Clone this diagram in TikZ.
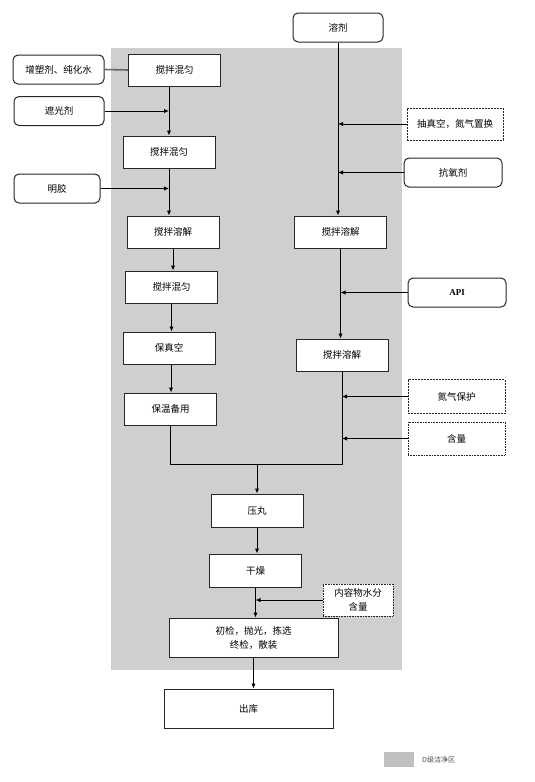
\documentclass[tikz,border=0pt]{standalone}
\usepackage{fontspec}
\setmainfont{Liberation Serif}
\newfontfamily\cjk{Noto Sans CJK SC}
\usetikzlibrary{arrows.meta}
\definecolor{cleanzone}{RGB}{208,206,208}
\definecolor{legendgray}{RGB}{192,192,192}

\begin{document}
\begin{tikzpicture}[x=1pt, y=-1pt,
    box/.style={draw=black!85, fill=white, line width=1pt, inner sep=0pt,
      minimum width=92pt, minimum height=32pt, align=center,
      font=\cjk\fontsize{9.5}{14}\selectfont},
    rbox/.style={box, rounded corners=5pt, minimum height=29pt},
    dbox/.style={box, dash pattern=on 2pt off 1pt},
    obox/.style={box, dash pattern=on 0.8pt off 0.8pt},
    ln/.style={line width=1pt, black},
    arr/.style={ln, -{Latex[length=5pt,width=4.5pt]}}]
  \useasboundingbox (0,0) rectangle (535,782);

  % D级洁净区
  \fill[cleanzone] (111,48) rectangle (402,670);

  % 左列：胶液
  \node[box] (mixA) at (174.5,70) {搅拌混匀};
  \node[box] (mixB) at (169,152) {搅拌混匀};
  \node[box] (dissA) at (173,232) {搅拌溶解};
  \node[box] (mixC) at (171.5,287) {搅拌混匀};
  \node[box] (vac) at (169,348) {保真空};
  \node[box] (keep) at (170.5,409) {保温备用};

  % 左侧投料
  \node[rbox, minimum width=91pt] (plast) at (58.5,69.5) {增塑剂、纯化水};
  \node[rbox, minimum width=90pt] (shade) at (59,111) {遮光剂};
  \node[rbox, minimum width=86pt] (gel) at (57,188.5) {明胶};

  % 右列：药液
  \node[rbox, minimum width=90pt] (solv) at (338,27.5) {溶剂};
  \node[box] (dissB) at (340.5,232) {搅拌溶解};
  \node[box] (dissC) at (342,355) {搅拌溶解};

  % 右侧投料与控制
  \node[dbox, minimum width=96pt] (purge) at (455,124) {抽真空，氮气置换};
  \node[rbox, minimum width=98pt] (antiox) at (453,172.5) {抗氧剂};
  \node[rbox, minimum width=98pt, font=\bfseries\fontsize{9}{11}\selectfont] (api) at (457,292.5) {API};
  \node[dbox, minimum width=97pt, minimum height=34pt] (nprot) at (456.5,396.5) {氮气保护};
  \node[obox, minimum width=97pt, minimum height=33pt] (assay) at (456.5,438.5) {含量};

  % 压丸以后
  \node[box, minimum height=33pt] (press) at (257,510.5) {压丸};
  \node[box, minimum height=33pt] (dry) at (255.5,570.5) {干燥};
  \node[obox, minimum width=70pt] (water) at (358,600) {内容物水分\\含量};
  \node[box, minimum width=169pt, minimum height=39pt] (insp) at (253.5,637.5) {初检，抛光，拣选\\终检，散装};
  \node[box, minimum width=169pt, minimum height=39pt] (out) at (248.5,708.5) {出库};

  % 左列连线
  \draw[ln, line width=1.6pt, black!60] (plast.east) -- (mixA.west);
  \draw[arr] (mixA.south -| mixB.north) -- (mixB.north);
  \draw[arr] (shade.east) -- (shade.east -| mixB.north);
  \draw[arr] (mixB.south) -- (mixB.south |- dissA.north);
  \draw[arr] (gel.east) -- (gel.east -| mixB.south);
  \draw[arr] (dissA.south) -- (dissA.south |- mixC.north);
  \draw[arr] (mixC.south) -- (mixC.south |- vac.north);
  \draw[arr] (vac.south) ++(2,0) coordinate (vs) -- (vs |- keep.north);

  % 右列连线
  \draw[arr] (solv.south) -- (solv.south |- dissB.north);
  \draw[arr] (purge.west) -- (purge.west -| solv.south);
  \draw[arr] (antiox.west) -- (antiox.west -| solv.south);
  \draw[arr] (dissB.south) -- (dissB.south |- dissC.north);
  \draw[arr] (api.west) -- (api.west -| dissB.south);
  \draw[arr] (nprot.west) -- (nprot.west -| dissC.south);
  \draw[arr] (assay.west) -- (assay.west -| dissC.south);

  % 汇合
  \path (press.north) ++(0,-29) coordinate (merge);
  \draw[ln] (keep.south) |- (merge) -| (dissC.south);
  \draw[arr] (merge) -- (press.north);
  \draw[arr] (press.south) -- (press.south |- dry.north);
  \draw[arr] (dry.south) -- (dry.south |- insp.north);
  \draw[arr] (water.west) -- (water.west -| dry.south);
  \draw[arr] (insp.south) -- (insp.south |- out.north);

  % 图例
  \fill[legendgray] (384,752) rectangle (414,767);
  \node[anchor=west, inner sep=0pt, text=black!70, font=\cjk\fontsize{7}{8}\selectfont] (legend) at (422,759.5) {D级洁净区};
\end{tikzpicture}
\end{document}
